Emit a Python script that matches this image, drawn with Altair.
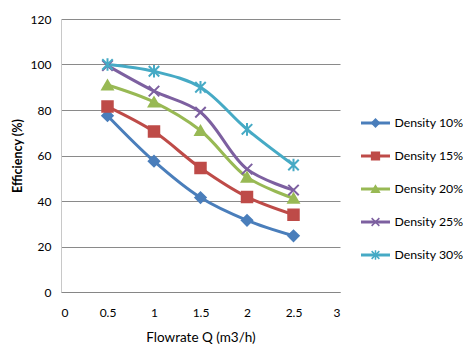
import altair as alt
import pandas as pd

flowrate = [0.5, 1.0, 1.5, 2.0, 2.5]
series_names = ["Density 10%", "Density 15%", "Density 20%", "Density 25%", "Density 30%"]
d10 = [77.5, 57.5, 41.5, 31.5, 24.7]
d15 = [81.5, 70.5, 54.5, 41.8, 34.0]
d20 = [91.0, 83.5, 71.0, 50.5, 41.2]
d25 = [99.5, 88.3, 79.0, 54.0, 44.8]
d30 = [100.0, 97.0, 90.0, 71.5, 55.8]
colors = ["#4A7EBB", "#BE4B48", "#98B954", "#7D60A0", "#46AAC5"]
shapes = [
    "diamond",
    "square",
    "triangle-up",
    "M-1,-1L1,1M-1,1L1,-1",
    "M-1,-1L1,1M-1,1L1,-1M0,-1.2L0,1.2",
]

rows = []
for name, vals in zip(series_names, [d10, d15, d20, d25, d30]):
    for q, v in zip(flowrate, vals):
        rows.append({"Flowrate": q, "Efficiency": v, "Series": name})
df = pd.DataFrame(rows)
leg = pd.DataFrame({"Series": series_names})

FONT = "Lato"
cscale = alt.Scale(domain=series_names, range=colors)
sscale = alt.Scale(domain=series_names, range=shapes)

x = alt.X("Flowrate:Q", title="Flowrate Q (m3/h)",
          scale=alt.Scale(domain=[0, 3], nice=False),
          axis=alt.Axis(values=[0, 0.5, 1, 1.5, 2, 2.5, 3], format="~g", grid=False,
                        ticks=False, labelPadding=15, titlePadding=12,
                        domainColor="#868686", labelFontSize=12, titleFontSize=13.5,
                        titleFontWeight="normal", labelColor="#000", titleColor="#000",
                        labelFont=FONT, titleFont=FONT))
y = alt.Y("Efficiency:Q", title="Efficiency (%)",
          scale=alt.Scale(domain=[0, 120], nice=False),
          axis=alt.Axis(values=[0, 20, 40, 60, 80, 100, 120], grid=True, gridColor="#8a8a8a",
                        ticks=False, labelPadding=10, titlePadding=6,
                        domainColor="#c8c8c8", labelFontSize=12, titleFontSize=12.5,
                        titleFontWeight="bold", labelColor="#000", titleColor="#000",
                        labelFont=FONT, titleFont=FONT))

lines = alt.Chart(df).mark_line(strokeWidth=3, interpolate="catmull-rom").encode(
    x=x, y=y, color=alt.Color("Series:N", scale=cscale, legend=None),
    detail="Series:N")
points = alt.Chart(df).mark_point(filled=True, strokeWidth=2, size=110, opacity=1).encode(
    x=x, y=y,
    color=alt.Color("Series:N", scale=cscale, legend=None),
    stroke=alt.Stroke("Series:N", scale=cscale, legend=None),
    shape=alt.Shape("Series:N", scale=sscale, legend=None))

main = (lines + points).properties(width=279, height=273)

ly = alt.Y("Series:N",
           scale=alt.Scale(type="point", domain=series_names, range=[104, 236], padding=0),
           axis=None)
lrule = alt.Chart(leg).mark_rule(strokeWidth=3).encode(
    x=alt.value(0), x2=alt.value(29), y=ly,
    color=alt.Color("Series:N", scale=cscale, legend=None))
lpt = alt.Chart(leg).mark_point(filled=True, strokeWidth=1.5, size=60, opacity=1).encode(
    x=alt.value(14.5), y=ly,
    color=alt.Color("Series:N", scale=cscale, legend=None),
    stroke=alt.Stroke("Series:N", scale=cscale, legend=None),
    shape=alt.Shape("Series:N", scale=sscale, legend=None))
ltxt = alt.Chart(leg).mark_text(align="right", baseline="middle", fontSize=12.3,
                                font=FONT, color="#000").encode(
    x=alt.value(102), y=ly, text="Series:N")
legend = (lrule + lpt + ltxt).properties(width=102, height=273)

chart = alt.hconcat(main, legend, spacing=19).resolve_scale(
    color="shared", shape="shared", stroke="shared").properties(
    padding={"left": 3, "top": 5, "right": 0, "bottom": 0}
).configure(background="white").configure_view(strokeWidth=0)

chart.save("out.html", embed_options={"renderer": "svg", "actions": False})
